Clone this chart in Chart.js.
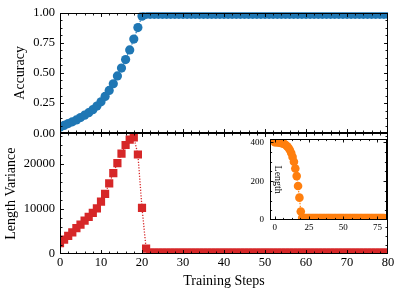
<!DOCTYPE html>
<html>
<head>
<meta charset="utf-8">
<script src="https://cdn.jsdelivr.net/npm/chart.js@4.4.1/dist/chart.umd.min.js"></script>
<style>
  html, body { margin: 0; padding: 0; background: #fff; }
  #wrap { position: relative; width: 399px; height: 293px; }
  #main { position: absolute; left: 0; top: 0; }
  #inset { position: absolute; left: 240px; top: 128px; }
</style>
</head>
<body>
<div id="wrap">
  <canvas id="main" width="399" height="293"></canvas>
  <canvas id="inset" width="159" height="110"></canvas>
</div>
<script>
// ---- data ----
const steps = [
  0, 1, 2, 3, 4, 5, 6, 7, 8, 9,
  10, 11, 12, 13, 14, 15, 16, 17, 18, 19,
  20, 21, 22, 23, 24, 25, 26, 27, 28, 29,
  30, 31, 32, 33, 34, 35, 36, 37, 38, 39,
  40, 41, 42, 43, 44, 45, 46, 47, 48, 49,
  50, 51, 52, 53, 54, 55, 56, 57, 58, 59,
  60, 61, 62, 63, 64, 65, 66, 67, 68, 69,
  70, 71, 72, 73, 74, 75, 76, 77, 78, 79,
  80
];

const accuracy = [
  0.05, 0.065, 0.08, 0.095, 0.11, 0.13, 0.15, 0.17, 0.195, 0.225,
  0.26, 0.305, 0.355, 0.41, 0.475, 0.54, 0.61, 0.69, 0.78, 0.875,
  0.97, 0.985, 0.985, 0.985, 0.985, 0.985, 0.985, 0.985, 0.985, 0.985,
  0.985, 0.985, 0.985, 0.985, 0.985, 0.985, 0.985, 0.985, 0.985, 0.985,
  0.985, 0.985, 0.985, 0.985, 0.985, 0.985, 0.985, 0.985, 0.985, 0.985,
  0.985, 0.985, 0.985, 0.985, 0.985, 0.985, 0.985, 0.985, 0.985, 0.985,
  0.985, 0.985, 0.985, 0.985, 0.985, 0.985, 0.985, 0.985, 0.985, 0.985,
  0.985, 0.985, 0.985, 0.985, 0.985, 0.985, 0.985, 0.985, 0.985, 0.985,
  0.985
];

const lengthVariance = [
  2400, 3200, 4000, 4800, 5700, 6500, 7400, 8200, 9100, 10100,
  11600, 13300, 15600, 17900, 20100, 22200, 24100, 25300, 25800, 22000,
  10200, 1200, 300, 300, 300, 300, 300, 300, 300, 300,
  300, 300, 300, 300, 300, 300, 300, 300, 300, 300,
  300, 300, 300, 300, 300, 300, 300, 300, 300, 300,
  300, 300, 300, 300, 300, 300, 300, 300, 300, 300,
  300, 300, 300, 300, 300, 300, 300, 300, 300, 300,
  300, 300, 300, 300, 300, 300, 300, 300, 300, 300,
  300
];

const length = [
  400, 400, 400, 399, 398, 396, 394, 391, 386, 380,
  372, 360, 345, 325, 300, 265, 226, 175, 115, 44,
  12, 10, 10, 10, 10, 10, 10, 10, 10, 10,
  10, 10, 10, 10, 10, 10, 10, 10, 10, 10,
  10, 10, 10, 10, 10, 10, 10, 10, 10, 10,
  10, 10, 10, 10, 10, 10, 10, 10, 10, 10,
  10, 10, 10, 10, 10, 10, 10, 10, 10, 10,
  10, 10, 10, 10, 10, 10, 10, 10, 10, 10,
  10
];

const xTicks = [0, 10, 20, 30, 40, 50, 60, 70, 80];
const accTicks = [0, 0.25, 0.5, 0.75, 1.0];
const accTickLabels = ['0.00', '0.25', '0.50', '0.75', '1.00'];
const varTicks = [0, 10000, 20000];
const insetXTicks = [0, 25, 50, 75];
const insetYTicks = [0, 200, 400];

const BLUE = '#1f77b4', RED = '#d62728', ORANGE = '#ff7f0e';
const SERIF = "'Liberation Serif', 'DejaVu Serif', serif";

Chart.defaults.font.family = SERIF;
Chart.defaults.color = '#000';

function setTicks(values) {
  return scale => { scale.ticks = values.map(v => ({ value: v })); };
}

function minorValues(min, max, step) {
  const out = [];
  for (let v = min; v <= max + 1e-9; v += step) out.push(v);
  return out;
}

// box + inward ticks on all four sides (scienceplots look)
function drawFrame(ctx, xs, ys, xMinorStep, yMinorStep, majLen, minLen) {
  const l = Math.round(xs.left) + 0.5, r = Math.round(xs.right) - 0.5;
  const t = Math.round(ys.top) + 0.5, b = Math.round(ys.bottom) - 0.5;
  ctx.save();
  ctx.strokeStyle = '#000';
  ctx.lineWidth = 0.9;
  ctx.beginPath();
  const tx = (v, len) => {
    const p = Math.round(xs.getPixelForValue(v)) + 0.5;
    if (p < l - 0.5 || p > r + 0.5) return;
    ctx.moveTo(p, b); ctx.lineTo(p, b - len);
    ctx.moveTo(p, t); ctx.lineTo(p, t + len);
  };
  const ty = (v, len) => {
    const p = Math.round(ys.getPixelForValue(v)) + 0.5;
    if (p < t - 0.5 || p > b + 0.5) return;
    ctx.moveTo(l, p); ctx.lineTo(l + len, p);
    ctx.moveTo(r, p); ctx.lineTo(r - len, p);
  };
  minorValues(Math.ceil(xs.min / xMinorStep) * xMinorStep, xs.max, xMinorStep).forEach(v => tx(v, minLen));
  minorValues(Math.ceil(ys.min / yMinorStep) * yMinorStep, ys.max, yMinorStep).forEach(v => ty(v, minLen));
  xs.ticks.forEach(tk => tx(tk.value, majLen));
  ys.ticks.forEach(tk => ty(tk.value, majLen));
  ctx.stroke();
  ctx.lineWidth = 1;
  ctx.strokeRect(l, t, r - l, b - t);
  ctx.restore();
}

const mainFrame = {
  id: 'mainFrame',
  afterDraw(chart) {
    const s = chart.scales;
    drawFrame(chart.ctx, s.x, s.yAcc, 2, 0.0625, 3.5, 2);
    drawFrame(chart.ctx, s.x, s.yVar, 2, 2000, 3.5, 2);
  }
};

new Chart(document.getElementById('main').getContext('2d'), {
  type: 'line',
  data: {
    labels: steps,
    datasets: [{
      label: 'Accuracy',
      data: accuracy,
      yAxisID: 'yAcc',
      borderColor: BLUE,
      borderWidth: 1.2,
      borderDash: [1.5, 1.5],
      pointStyle: 'circle',
      pointRadius: 4.6,
      pointBorderWidth: 0,
      pointBackgroundColor: BLUE,
      tension: 0
    }, {
      label: 'Length Variance',
      data: lengthVariance,
      yAxisID: 'yVar',
      borderColor: RED,
      borderWidth: 1.3,
      borderDash: [1.2, 1.6],
      pointStyle: 'rect',
      pointRadius: 5.8,
      pointBorderWidth: 0,
      pointBackgroundColor: RED,
      tension: 0
    }]
  },
  options: {
    responsive: false,
    animation: false,
    events: [],
    layout: { padding: { left: 0, right: 11, top: 10, bottom: 0 } },
    scales: {
      x: {
        type: 'linear',
        min: 0,
        max: 80,
        afterBuildTicks: setTicks(xTicks),
        afterFit: scale => { scale.height = 39; },
        grid: { display: false, drawTicks: false },
        border: { display: false },
        ticks: { padding: 1, font: { size: 12.5 }, maxRotation: 0, autoSkip: false },
        title: { display: true, text: 'Training Steps', font: { size: 14 }, padding: { top: 0, bottom: 3 } }
      },
      yVar: {
        type: 'linear',
        position: 'left',
        stack: 'panels',
        stackWeight: 1,
        min: 0,
        max: 26700,
        afterBuildTicks: setTicks(varTicks),
        afterFit: scale => { scale.width = 60; },
        grid: { display: false, drawTicks: false },
        border: { display: false },
        ticks: { padding: 5, font: { size: 12.5 }, autoSkip: false, callback: v => String(v) },
        title: { display: true, text: 'Length Variance', font: { size: 14 }, padding: { top: 3.3, bottom: 0 } }
      },
      yAcc: {
        type: 'linear',
        position: 'left',
        stack: 'panels',
        stackWeight: 1,
        min: 0,
        max: 1,
        afterBuildTicks: setTicks(accTicks),
        afterFit: scale => { scale.width = 60; },
        grid: { display: false, drawTicks: false },
        border: { display: false },
        ticks: { padding: 5, font: { size: 12.5 }, autoSkip: false, callback: v => accTickLabels[accTicks.indexOf(v)] },
        title: { display: true, text: 'Accuracy', font: { size: 14 }, padding: { top: 12.3, bottom: 0 } }
      }
    },
    plugins: {
      legend: { display: false },
      tooltip: { enabled: false }
    }
  },
  plugins: [mainFrame]
});

const insetFrame = {
  id: 'insetFrame',
  beforeDraw(chart) {
    const a = chart.chartArea, ctx = chart.ctx;
    ctx.save();
    ctx.fillStyle = '#fff';
    ctx.fillRect(a.left, a.top, a.right - a.left, a.bottom - a.top);
    ctx.restore();
  },
  afterDraw(chart) {
    const s = chart.scales, a = chart.chartArea, ctx = chart.ctx;
    drawFrame(ctx, s.x, s.y, 6.25, 50, 3, 1.6);
    // ylabel sits inside the inset, rotated clockwise
    ctx.save();
    ctx.fillStyle = '#000';
    ctx.font = '10px ' + SERIF;
    ctx.textAlign = 'center';
    ctx.textBaseline = 'middle';
    ctx.translate(a.left + 8, (a.top + a.bottom) / 2);
    ctx.rotate(Math.PI / 2);
    ctx.fillText('Length', 0, 0);
    ctx.restore();
  }
};

new Chart(document.getElementById('inset').getContext('2d'), {
  type: 'line',
  data: {
    labels: steps,
    datasets: [{
      label: 'Length',
      data: length,
      borderColor: ORANGE,
      borderWidth: 1.2,
      borderDash: [1.5, 1.5],
      pointStyle: 'circle',
      pointRadius: 4.3,
      pointBorderWidth: 0,
      pointBackgroundColor: ORANGE,
      tension: 0
    }]
  },
  options: {
    responsive: false,
    animation: false,
    events: [],
    layout: { padding: { left: 0, right: 12, top: 4, bottom: 0 } },
    scales: {
      x: {
        type: 'linear',
        min: -3.5,
        max: 82,
        afterBuildTicks: setTicks(insetXTicks),
        afterFit: scale => { scale.height = 18; },
        grid: { display: false, drawTicks: false },
        border: { display: false },
        ticks: { padding: 2, font: { size: 9 }, maxRotation: 0, autoSkip: false }
      },
      y: {
        type: 'linear',
        min: 0,
        max: 415,
        afterBuildTicks: setTicks(insetYTicks),
        afterFit: scale => { scale.width = 30; },
        grid: { display: false, drawTicks: false },
        border: { display: false },
        ticks: { padding: 6, font: { size: 9 }, autoSkip: false }
      }
    },
    plugins: {
      legend: { display: false },
      tooltip: { enabled: false }
    }
  },
  plugins: [insetFrame]
});
</script>
</body>
</html>
